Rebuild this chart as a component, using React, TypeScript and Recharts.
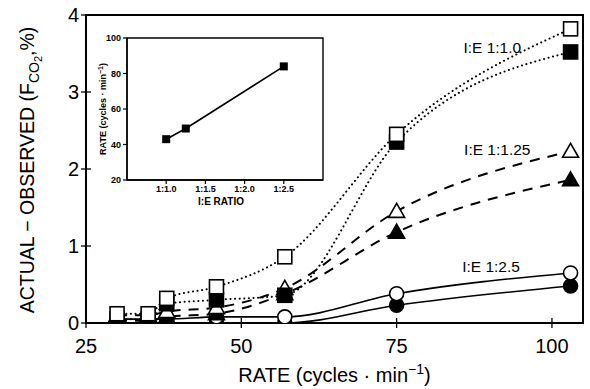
import React from 'react';
import { ComposedChart, LineChart, Line, XAxis, YAxis, ReferenceArea, ReferenceDot } from 'recharts';

// Main chart data
const rates = [30, 35, 38, 46, 57, 75, 103];
const ie10Open = [0.12, 0.12, 0.32, 0.47, 0.86, 2.45, 3.82];
const ie10Filled = [0.05, 0.05, 0.25, 0.3, 0.36, 2.35, 3.52];
const ie125Open = [0.1, 0.1, 0.15, 0.2, 0.45, 1.45, 2.23];
const ie125Filled = [0.03, 0.03, 0.08, 0.12, 0.38, 1.18, 1.86];
const ie25Open = [0.05, 0.05, 0.05, 0.08, 0.08, 0.38, 0.65];
const ie25Filled = [0, 0, 0, 0, 0, 0.23, 0.48];
const xTicks = [25, 50, 75, 100];
const yTicks = [0, 1, 2, 3, 4];

const seriesLabels = [
  { text: 'I:E 1:1.0', x: 90.4, y: 3.58 },
  { text: 'I:E 1:1.25', x: 91.2, y: 2.25 },
  { text: 'I:E 1:2.5', x: 90.2, y: 0.74 },
];

// Inset data
const ieRatios = [1.0, 1.25, 2.5];
const optimalRates = [43, 49, 84];
const insetXTicks = [1.0, 1.5, 2.0, 2.5];
const insetXTickLabels = ['1:1.0', '1:1.5', '1:2.0', '1:2.5'];
const insetYTicks = [20, 40, 60, 80, 100];

const rows = rates.map((r, i) => ({
  rate: r,
  sqOpen: ie10Open[i],
  sqFilled: ie10Filled[i],
  triOpen: ie125Open[i],
  triFilled: ie125Filled[i],
  cirOpen: ie25Open[i],
  cirFilled: ie25Filled[i],
}));

const insetRows = ieRatios.map((r, i) => ({ ratio: r, rate: optimalRates[i] }));

const FONT = '"Liberation Sans", Arial, Helvetica, sans-serif';

const squareDot = (filled: boolean) => (props: any) => {
  const { cx, cy, index } = props;
  if (cx == null || cy == null) return <g key={`s${filled}${index}`} />;
  return (
    <rect key={`s${filled}${index}`} x={cx - 7} y={cy - 7} width={14} height={14}
      fill={filled ? '#000' : '#fff'} stroke="#000" strokeWidth={1.6} />
  );
};

const triDot = (filled: boolean) => (props: any) => {
  const { cx, cy, index } = props;
  if (cx == null || cy == null) return <g key={`t${filled}${index}`} />;
  const pts = `${cx},${cy - 8} ${cx + 8},${cy + 6} ${cx - 8},${cy + 6}`;
  return <polygon key={`t${filled}${index}`} points={pts} fill={filled ? '#000' : '#fff'} stroke="#000" strokeWidth={1.6} strokeLinejoin="miter" />;
};

const cirDot = (filled: boolean) => (props: any) => {
  const { cx, cy, index } = props;
  if (cx == null || cy == null) return <g key={`c${filled}${index}`} />;
  return <circle key={`c${filled}${index}`} cx={cx} cy={cy} r={7} fill={filled ? '#000' : '#fff'} stroke="#000" strokeWidth={1.6} />;
};

const XTick = (props: any) => {
  const { x, y, payload } = props;
  return (
    <g>
      <line x1={x} x2={x} y1={y - 5} y2={y + 5} stroke="#000" strokeWidth={1.3} />
      <text x={x} y={y + 30} textAnchor="middle" fontSize={20} fontFamily={FONT} fill="#000">{payload.value}</text>
    </g>
  );
};

const YTick = (props: any) => {
  const { x, y, payload } = props;
  return (
    <g>
      <line x1={x - 5} x2={x + 5} y1={y} y2={y} stroke="#000" strokeWidth={1.3} />
      <text x={x - 7} y={y + 7} textAnchor="end" fontSize={20} fontFamily={FONT} fill="#000">{payload.value}</text>
    </g>
  );
};

const xAxisLabel = (props: any) => {
  const vb = props.viewBox || { x: 86, y: 323, width: 497, height: 66 };
  const cx = vb.x + vb.width / 2;
  return (
    <text x={cx} y={vb.y + 59} textAnchor="middle" fontSize={20} fontFamily={FONT} fill="#000">
      RATE (cycles · min
      <tspan dy={-8} fontSize={14}>−1</tspan>
      <tspan dy={8}>)</tspan>
    </text>
  );
};

const yAxisLabel = (props: any) => {
  const vb = props.viewBox || { x: 0, y: 15, width: 86, height: 308 };
  const tx = vb.x + 34;
  const ty = vb.y + vb.height / 2 + 1;
  return (
    <text x={tx} y={ty} transform={`rotate(-90 ${tx} ${ty})`} textAnchor="middle" fontSize={19.5} fontFamily={FONT} fill="#000">
      ACTUAL − OBSERVED (F
      <tspan dy={5} fontSize={14}>CO</tspan>
      <tspan dy={3} fontSize={11}>2</tspan>
      <tspan dy={-8}>,%)</tspan>
    </text>
  );
};

const insetYLabel = (props: any) => {
  const vb = props.viewBox || { x: 0, y: 10, width: 42, height: 142 };
  const tx = vb.x + 21;
  const ty = vb.y + vb.height / 2;
  return (
    <text x={tx} y={ty} transform={`rotate(-90 ${tx} ${ty})`} textAnchor="middle" fontSize={9} fontWeight="bold" fontFamily={FONT} fill="#000">
      RATE (cycles · min
      <tspan dy={-3} fontSize={7}>−1</tspan>
      <tspan dy={3}>)</tspan>
    </text>
  );
};

const insetXLabel = (props: any) => {
  const vb = props.viewBox || { x: 42, y: 152, width: 196, height: 38 };
  return (
    <text x={vb.x + vb.width / 2 - 4} y={vb.y + 25} textAnchor="middle" fontSize={10} fontWeight="bold" fontFamily={FONT} fill="#000">
      I:E RATIO
    </text>
  );
};

const insetTickStyle = { fontSize: 9, fontWeight: 'bold' as const, fontFamily: FONT, fill: '#000' };

export default function App() {
  return (
    <div style={{ position: 'absolute', left: 0, top: 0, width: 590, height: 389, background: '#fff' }}>
      <ComposedChart width={590} height={389} data={rows} margin={{ top: 15, right: 7, bottom: 0, left: 0 }}>
        <XAxis type="number" dataKey="rate" domain={[25, 105]} ticks={xTicks} height={66}
          axisLine={{ stroke: '#000', strokeWidth: 2 }} tickLine={false} tickSize={0} tickMargin={0}
          tick={<XTick />} label={xAxisLabel} allowDataOverflow />
        <YAxis type="number" domain={[0, 4]} ticks={yTicks} width={86}
          axisLine={{ stroke: '#000', strokeWidth: 2 }} tickLine={false} tickSize={0} tickMargin={0}
          tick={<YTick />} label={yAxisLabel} allowDataOverflow />
        <ReferenceArea x1={25} x2={105} y1={0} y2={4} fill="none" stroke="#000" strokeWidth={2} />
        <Line type="monotone" dataKey="cirFilled" stroke="#000" strokeWidth={1.6} dot={cirDot(true)} activeDot={false} isAnimationActive={false} />
        <Line type="monotone" dataKey="cirOpen" stroke="#000" strokeWidth={1.6} dot={cirDot(false)} activeDot={false} isAnimationActive={false} />
        <Line type="monotone" dataKey="triFilled" stroke="#000" strokeWidth={2} strokeDasharray="10 8" dot={triDot(true)} activeDot={false} isAnimationActive={false} />
        <Line type="monotone" dataKey="triOpen" stroke="#000" strokeWidth={2} strokeDasharray="10 8" dot={triDot(false)} activeDot={false} isAnimationActive={false} />
        <Line type="monotone" dataKey="sqFilled" stroke="#000" strokeWidth={2} strokeDasharray="0.1 4.5" strokeLinecap="round" dot={squareDot(true)} activeDot={false} isAnimationActive={false} />
        <Line type="monotone" dataKey="sqOpen" stroke="#000" strokeWidth={2} strokeDasharray="0.1 4.5" strokeLinecap="round" dot={squareDot(false)} activeDot={false} isAnimationActive={false} />
        {seriesLabels.map((l) => (
          <ReferenceDot key={l.text} x={l.x} y={l.y} r={0} fill="none" stroke="none"
            label={{ value: l.text, position: 'center', fontSize: 15.5, fontFamily: FONT, fill: '#000' }} />
        ))}
      </ComposedChart>
      <div style={{ position: 'absolute', left: 85, top: 28 }}>
        <LineChart width={250} height={190} data={insetRows} margin={{ top: 10, right: 12, bottom: 0, left: 0 }}>
          <XAxis type="number" dataKey="ratio" domain={[0.5, 3.0]} ticks={insetXTicks} height={38}
            tickFormatter={(v: number) => insetXTickLabels[insetXTicks.indexOf(v)] ?? String(v)}
            axisLine={{ stroke: '#000', strokeWidth: 1.4 }} tickLine={{ stroke: '#000', strokeWidth: 1.2 }} tickSize={4} tickMargin={2}
            tick={insetTickStyle} label={insetXLabel} allowDataOverflow />
          <YAxis type="number" domain={[20, 100]} ticks={insetYTicks} width={42}
            axisLine={{ stroke: '#000', strokeWidth: 1.4 }} tickLine={{ stroke: '#000', strokeWidth: 1.2 }} tickSize={4} tickMargin={2}
            tick={insetTickStyle} label={insetYLabel} allowDataOverflow />
          <ReferenceArea x1={0.5} x2={3.0} y1={20} y2={100} fill="none" stroke="#000" strokeWidth={1.4} />
          <Line type="linear" dataKey="rate" stroke="#000" strokeWidth={1.6} activeDot={false} isAnimationActive={false}
            dot={(p: any) => (p.cx == null ? <g key={p.index} /> : <rect key={p.index} x={p.cx - 4} y={p.cy - 4} width={8} height={8} fill="#000" />)} />
        </LineChart>
      </div>
    </div>
  );
}
